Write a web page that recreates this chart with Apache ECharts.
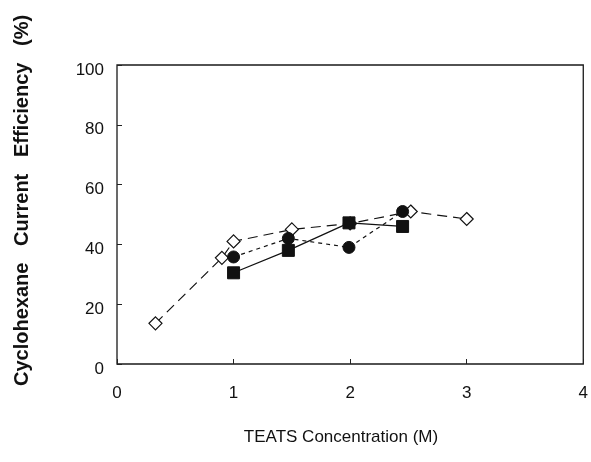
<!DOCTYPE html>
<html>
<head>
<meta charset="utf-8">
<script src="https://cdn.jsdelivr.net/npm/echarts@6/dist/echarts.min.js"></script>
<style>
  html, body { margin: 0; padding: 0; background: #fff; }
  #chart { width: 591px; height: 462px; }
</style>
</head>
<body>
<div id="chart"></div>
<script>
// data
const diamondPts = [[0.33, 13.6], [0.9, 35.5], [1.0, 41], [1.5, 45], [2.0, 47], [2.52, 51], [3.0, 48.5]];
const circlePts = [[1.0, 35.8], [1.47, 42], [1.99, 39], [2.45, 51]];
const squarePts = [[1.0, 30.5], [1.47, 38], [1.99, 47.2], [2.45, 46]];
const xTicks = [0, 1, 2, 3, 4];
const yTicks = [0, 20, 40, 60, 80, 100];

const font = 'Liberation Sans, Arial, sans-serif';
const myChart = echarts.init(document.getElementById('chart'));

myChart.setOption({
  animation: false,
  grid: { left: 117, right: 6, top: 65, bottom: 98, show: true, borderColor: '#1a1a1a', borderWidth: 1.3 },
  xAxis: {
    type: 'value', min: 0, max: 4, interval: 1,
    axisLine: { show: false },
    axisTick: { show: true, inside: true, length: 5, lineStyle: { color: '#222' } },
    splitLine: { show: false },
    axisLabel: { margin: 21, color: '#111', fontSize: 17, fontFamily: font,
      formatter: v => xTicks.includes(v) ? String(v) : '' }
  },
  yAxis: {
    type: 'value', min: 0, max: 100, interval: 20,
    axisLine: { show: false },
    axisTick: { show: true, inside: true, length: 5, lineStyle: { color: '#222' } },
    splitLine: { show: false },
    axisLabel: { margin: 13, color: '#111', fontSize: 17, fontFamily: font,
      verticalAlign: 'top', lineHeight: 10,
      formatter: v => yTicks.includes(v) ? String(v) : '' }
  },
  graphic: [
    {
      type: 'text', x: 12, y: 386,
      rotation: Math.PI / 2,
      style: {
        text: 'Cyclohexane   Current   Efficiency   (%)',
        fill: '#111', fontSize: 20, fontWeight: 'bold', fontFamily: font
      }
    },
    {
      type: 'text', x: 341, y: 437,
      style: {
        text: 'TEATS Concentration (M)',
        fill: '#111', fontSize: 17, fontFamily: font,
        align: 'center', verticalAlign: 'middle'
      }
    }
  ],
  series: [
    {
      type: 'line', data: diamondPts, symbol: 'diamond', symbolSize: 13,
      itemStyle: { color: '#fff', borderColor: '#111', borderWidth: 1.2 },
      lineStyle: { color: '#111', width: 1.2, type: [10, 6] }, z: 2
    },
    {
      type: 'line', data: circlePts, symbol: 'circle', symbolSize: 12,
      itemStyle: { color: '#111', borderColor: '#111' },
      lineStyle: { color: '#111', width: 1.2, type: [4, 4] }, z: 3
    },
    {
      type: 'line', data: squarePts, symbol: 'rect', symbolSize: 12,
      itemStyle: { color: '#111', borderColor: '#111' },
      lineStyle: { color: '#111', width: 1.2, type: 'solid' }, z: 4
    }
  ]
});

window.addEventListener('resize', () => { myChart.resize(); });
</script>
</body>
</html>
